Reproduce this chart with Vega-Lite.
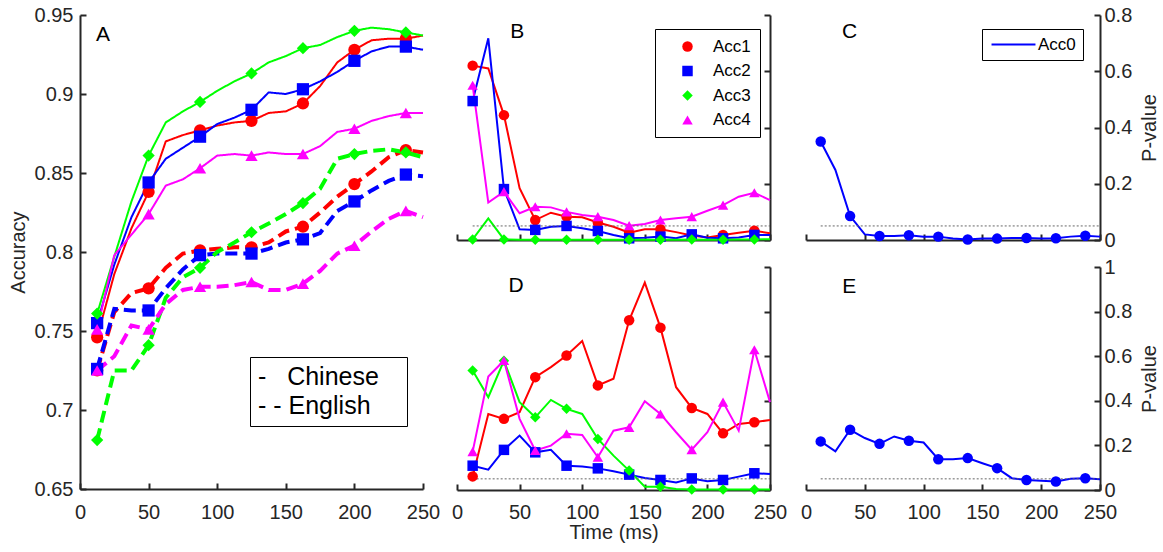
{
  "$schema": "https://vega.github.io/schema/vega-lite/v6.json",
  "background": "white",
  "padding": {"left": 8, "top": 5, "right": 2, "bottom": 2},
  "config": {
    "view": {"stroke": null},
    "font": "Liberation Sans",
    "axis": {
      "labelFont": "Liberation Sans", "titleFont": "Liberation Sans",
      "labelFontSize": 20, "titleFontSize": 20, "titleFontWeight": "normal",
      "labelColor": "#262626", "titleColor": "#262626",
      "domainColor": "#262626", "tickColor": "#262626",
      "domainWidth": 2, "tickWidth": 2, "tickSize": -6,
      "grid": false, "labelFlush": false, "labelOverlap": false
    },
    "legend": {"labelFont": "Liberation Sans", "labelColor": "black"}
  },
  "datasets": {
    "A": [
      {"t":12.5,"lang":"Chinese","Acc1":0.746,"Acc2":0.755,"Acc3":0.761,"Acc4":0.751},
      {"t":25,"lang":"Chinese","Acc1":0.786,"Acc2":0.792,"Acc3":0.797,"Acc4":0.798},
      {"t":37.5,"lang":"Chinese","Acc1":0.815,"Acc2":0.822,"Acc3":0.832,"Acc4":0.811},
      {"t":50,"lang":"Chinese","Acc1":0.838,"Acc2":0.844,"Acc3":0.861,"Acc4":0.824},
      {"t":62.5,"lang":"Chinese","Acc1":0.870,"Acc2":0.859,"Acc3":0.882,"Acc4":0.842},
      {"t":75,"lang":"Chinese","Acc1":0.874,"Acc2":0.866,"Acc3":0.889,"Acc4":0.846},
      {"t":87.5,"lang":"Chinese","Acc1":0.877,"Acc2":0.873,"Acc3":0.895,"Acc4":0.853},
      {"t":100,"lang":"Chinese","Acc1":0.880,"Acc2":0.881,"Acc3":0.902,"Acc4":0.861},
      {"t":112.5,"lang":"Chinese","Acc1":0.882,"Acc2":0.885,"Acc3":0.908,"Acc4":0.862},
      {"t":125,"lang":"Chinese","Acc1":0.883,"Acc2":0.890,"Acc3":0.913,"Acc4":0.861},
      {"t":137.5,"lang":"Chinese","Acc1":0.888,"Acc2":0.901,"Acc3":0.920,"Acc4":0.863},
      {"t":150,"lang":"Chinese","Acc1":0.889,"Acc2":0.900,"Acc3":0.924,"Acc4":0.862},
      {"t":162.5,"lang":"Chinese","Acc1":0.894,"Acc2":0.903,"Acc3":0.929,"Acc4":0.862},
      {"t":175,"lang":"Chinese","Acc1":0.905,"Acc2":0.908,"Acc3":0.931,"Acc4":0.867},
      {"t":187.5,"lang":"Chinese","Acc1":0.920,"Acc2":0.914,"Acc3":0.936,"Acc4":0.876},
      {"t":200,"lang":"Chinese","Acc1":0.928,"Acc2":0.921,"Acc3":0.940,"Acc4":0.878},
      {"t":212.5,"lang":"Chinese","Acc1":0.934,"Acc2":0.927,"Acc3":0.942,"Acc4":0.883},
      {"t":225,"lang":"Chinese","Acc1":0.935,"Acc2":0.930,"Acc3":0.941,"Acc4":0.886},
      {"t":237.5,"lang":"Chinese","Acc1":0.935,"Acc2":0.930,"Acc3":0.939,"Acc4":0.888},
      {"t":250,"lang":"Chinese","Acc1":0.937,"Acc2":0.928,"Acc3":0.937,"Acc4":0.888},
      {"t":12.5,"lang":"English","Acc1":0.725,"Acc2":0.726,"Acc3":0.681,"Acc4":0.725},
      {"t":25,"lang":"English","Acc1":0.762,"Acc2":0.764,"Acc3":0.725,"Acc4":0.734},
      {"t":37.5,"lang":"English","Acc1":0.774,"Acc2":0.763,"Acc3":0.725,"Acc4":0.7535},
      {"t":50,"lang":"English","Acc1":0.777,"Acc2":0.763,"Acc3":0.741,"Acc4":0.751},
      {"t":62.5,"lang":"English","Acc1":0.790,"Acc2":0.777,"Acc3":0.771,"Acc4":0.767},
      {"t":75,"lang":"English","Acc1":0.799,"Acc2":0.789,"Acc3":0.784,"Acc4":0.776},
      {"t":87.5,"lang":"English","Acc1":0.801,"Acc2":0.798,"Acc3":0.790,"Acc4":0.778},
      {"t":100,"lang":"English","Acc1":0.802,"Acc2":0.799,"Acc3":0.800,"Acc4":0.778},
      {"t":112.5,"lang":"English","Acc1":0.803,"Acc2":0.799,"Acc3":0.806,"Acc4":0.779},
      {"t":125,"lang":"English","Acc1":0.803,"Acc2":0.799,"Acc3":0.8125,"Acc4":0.781},
      {"t":137.5,"lang":"English","Acc1":0.806,"Acc2":0.802,"Acc3":0.818,"Acc4":0.776},
      {"t":150,"lang":"English","Acc1":0.813,"Acc2":0.806,"Acc3":0.824,"Acc4":0.776},
      {"t":162.5,"lang":"English","Acc1":0.816,"Acc2":0.808,"Acc3":0.831,"Acc4":0.780},
      {"t":175,"lang":"English","Acc1":0.825,"Acc2":0.812,"Acc3":0.840,"Acc4":0.788},
      {"t":187.5,"lang":"English","Acc1":0.835,"Acc2":0.826,"Acc3":0.859,"Acc4":0.799},
      {"t":200,"lang":"English","Acc1":0.843,"Acc2":0.832,"Acc3":0.862,"Acc4":0.804},
      {"t":212.5,"lang":"English","Acc1":0.851,"Acc2":0.839,"Acc3":0.864,"Acc4":0.813},
      {"t":225,"lang":"English","Acc1":0.860,"Acc2":0.845,"Acc3":0.865,"Acc4":0.821},
      {"t":237.5,"lang":"English","Acc1":0.8645,"Acc2":0.849,"Acc3":0.863,"Acc4":0.826},
      {"t":250,"lang":"English","Acc1":0.863,"Acc2":0.848,"Acc3":0.860,"Acc4":0.822}
    ],
    "B": [
      {"t":12.5,"Acc1":0.62,"Acc2":0.494,"Acc3":0.002,"Acc4":0.55},
      {"t":25,"Acc1":0.61,"Acc2":0.717,"Acc3":0.077,"Acc4":0.133},
      {"t":37.5,"Acc1":0.444,"Acc2":0.181,"Acc3":0.002,"Acc4":0.172},
      {"t":50,"Acc1":0.184,"Acc2":0.038,"Acc3":0.001,"Acc4":0.095},
      {"t":62.5,"Acc1":0.071,"Acc2":0.036,"Acc3":0.001,"Acc4":0.118},
      {"t":75,"Acc1":0.097,"Acc2":0.047,"Acc3":0.001,"Acc4":0.116},
      {"t":87.5,"Acc1":0.083,"Acc2":0.050,"Acc3":0.001,"Acc4":0.100},
      {"t":100,"Acc1":0.081,"Acc2":0.042,"Acc3":0.001,"Acc4":0.089},
      {"t":112.5,"Acc1":0.062,"Acc2":0.032,"Acc3":0.001,"Acc4":0.083},
      {"t":125,"Acc1":0.047,"Acc2":0.018,"Acc3":0.001,"Acc4":0.071},
      {"t":137.5,"Acc1":0.026,"Acc2":0.006,"Acc3":0.001,"Acc4":0.051},
      {"t":150,"Acc1":0.038,"Acc2":0.008,"Acc3":0.001,"Acc4":0.057},
      {"t":162.5,"Acc1":0.038,"Acc2":0.012,"Acc3":0.001,"Acc4":0.071},
      {"t":175,"Acc1":0.028,"Acc2":0.006,"Acc3":0.001,"Acc4":0.077},
      {"t":187.5,"Acc1":0.016,"Acc2":0.020,"Acc3":0.002,"Acc4":0.083},
      {"t":200,"Acc1":0.009,"Acc2":0.008,"Acc3":0.001,"Acc4":0.104},
      {"t":212.5,"Acc1":0.018,"Acc2":0.006,"Acc3":0.001,"Acc4":0.124},
      {"t":225,"Acc1":0.026,"Acc2":0.009,"Acc3":0.002,"Acc4":0.154},
      {"t":237.5,"Acc1":0.033,"Acc2":0.018,"Acc3":0.002,"Acc4":0.168},
      {"t":250,"Acc1":0.024,"Acc2":0.018,"Acc3":0.003,"Acc4":0.142}
    ],
    "C": [
      {"t":12.5,"Acc0":0.35},{"t":25,"Acc0":0.249},{"t":37.5,"Acc0":0.085},{"t":50,"Acc0":0.020},
      {"t":62.5,"Acc0":0.014},{"t":75,"Acc0":0.014},{"t":87.5,"Acc0":0.017},{"t":100,"Acc0":0.012},
      {"t":112.5,"Acc0":0.012},{"t":125,"Acc0":0.005},{"t":137.5,"Acc0":0.002},{"t":150,"Acc0":0.005},
      {"t":162.5,"Acc0":0.005},{"t":175,"Acc0":0.007},{"t":187.5,"Acc0":0.007},{"t":200,"Acc0":0.005},
      {"t":212.5,"Acc0":0.006},{"t":225,"Acc0":0.012},{"t":237.5,"Acc0":0.015},{"t":250,"Acc0":0.012}
    ],
    "D": [
      {"t":12.5,"Acc1":0.061,"Acc2":0.109,"Acc3":0.536,"Acc4":0.172},
      {"t":25,"Acc1":0.341,"Acc2":0.091,"Acc3":0.416,"Acc4":0.509},
      {"t":37.5,"Acc1":0.319,"Acc2":0.180,"Acc3":0.580,"Acc4":0.581},
      {"t":50,"Acc1":0.349,"Acc2":0.244,"Acc3":0.394,"Acc4":0.319},
      {"t":62.5,"Acc1":0.506,"Acc2":0.169,"Acc3":0.326,"Acc4":0.177},
      {"t":75,"Acc1":0.551,"Acc2":0.180,"Acc3":0.404,"Acc4":0.199},
      {"t":87.5,"Acc1":0.603,"Acc2":0.109,"Acc3":0.364,"Acc4":0.252},
      {"t":100,"Acc1":0.668,"Acc2":0.105,"Acc3":0.341,"Acc4":0.247},
      {"t":112.5,"Acc1":0.469,"Acc2":0.097,"Acc3":0.229,"Acc4":0.147},
      {"t":125,"Acc1":0.499,"Acc2":0.084,"Acc3":0.154,"Acc4":0.266},
      {"t":137.5,"Acc1":0.761,"Acc2":0.069,"Acc3":0.087,"Acc4":0.281},
      {"t":150,"Acc1":0.930,"Acc2":0.054,"Acc3":0.015,"Acc4":0.398},
      {"t":162.5,"Acc1":0.728,"Acc2":0.045,"Acc3":0.015,"Acc4":0.341},
      {"t":175,"Acc1":0.461,"Acc2":0.034,"Acc3":0.004,"Acc4":0.259},
      {"t":187.5,"Acc1":0.368,"Acc2":0.052,"Acc3":0.002,"Acc4":0.181},
      {"t":200,"Acc1":0.341,"Acc2":0.039,"Acc3":0.002,"Acc4":0.259},
      {"t":212.5,"Acc1":0.254,"Acc2":0.045,"Acc3":0.002,"Acc4":0.394},
      {"t":225,"Acc1":0.296,"Acc2":0.060,"Acc3":0.002,"Acc4":0.266},
      {"t":237.5,"Acc1":0.304,"Acc2":0.075,"Acc3":0.002,"Acc4":0.629},
      {"t":250,"Acc1":0.314,"Acc2":0.072,"Acc3":0.002,"Acc4":0.394}
    ],
    "E": [
      {"t":12.5,"Acc0":0.218},{"t":25,"Acc0":0.173},{"t":37.5,"Acc0":0.270},{"t":50,"Acc0":0.233},
      {"t":62.5,"Acc0":0.207},{"t":75,"Acc0":0.240},{"t":87.5,"Acc0":0.221},{"t":100,"Acc0":0.213},
      {"t":112.5,"Acc0":0.138},{"t":125,"Acc0":0.138},{"t":137.5,"Acc0":0.143},{"t":150,"Acc0":0.120},
      {"t":162.5,"Acc0":0.098},{"t":175,"Acc0":0.053},{"t":187.5,"Acc0":0.045},{"t":200,"Acc0":0.042},
      {"t":212.5,"Acc0":0.038},{"t":225,"Acc0":0.050},{"t":237.5,"Acc0":0.053},{"t":250,"Acc0":0.048}
    ]
  },
  "resolve": {"scale": {"color": "independent", "shape": "independent", "stroke": "independent", "strokeDash": "independent", "strokeWidth": "independent"}},
  "spacing": 11,
  "hconcat": [
    {
      "width": 343, "height": 474,
      "layer": [
        {
          "data": {"name": "A"},
          "transform": [{"fold": ["Acc1", "Acc2", "Acc3", "Acc4"], "as": ["acc", "v"]}],
          "mark": {"type": "line", "strokeCap": "butt"},
          "encoding": {
            "x": {"field": "t", "type": "quantitative", "scale": {"domain": [0, 250], "nice": false},
                  "axis": {"values": [0, 50, 100, 150, 200, 250], "title": null, "labelPadding": 19}},
            "y": {"field": "v", "type": "quantitative", "scale": {"domain": [0.65, 0.95], "nice": false, "zero": false},
                  "axis": {"values": [0.65, 0.7, 0.75, 0.8, 0.85, 0.9, 0.95], "format": "~g", "title": "Accuracy", "labelPadding": 13, "titlePadding": 6}},
            "stroke": {"field": "acc", "type": "nominal", "scale": {"domain": ["Acc1", "Acc2", "Acc3", "Acc4"], "range": ["#FF0000", "#0000FF", "#00FF00", "#FF00FF"]}, "legend": null},
            "strokeDash": {"field": "lang", "type": "nominal", "scale": {"domain": ["Chinese", "English"], "range": [[1, 0], [12, 6]]},
              "legend": {"title": null, "orient": "none", "legendX": 170, "legendY": 342, "symbolType": "stroke", "symbolSize": 0, "symbolStrokeWidth": 0, "symbolOpacity": 0,
                "labelFontSize": 25, "labelOffset": -24, "padding": 7, "rowPadding": 3, "strokeColor": "black", "fillColor": "white",
                "labelExpr": "datum.label == 'Chinese' ? '-\u00a0\u00a0\u00a0Chinese\u00a0\u00a0\u00a0\u200b' : '-\u00a0-\u00a0English'"}},
            "strokeWidth": {"field": "lang", "type": "nominal", "scale": {"domain": ["English", "Chinese"], "range": [4, 2]}, "legend": null}
          }
        },
        {
          "data": {"name": "A"},
          "transform": [{"fold": ["Acc1", "Acc2", "Acc3", "Acc4"], "as": ["acc", "v"]}, {"filter": {"field": "t", "oneOf": [12.5, 50, 87.5, 125, 162.5, 200, 237.5]}}],
          "mark": {"type": "point", "filled": true, "opacity": 1, "size": 150},
          "encoding": {
            "x": {"field": "t", "type": "quantitative", "scale": {"domain": [0, 250], "nice": false},
                  "axis": {"values": [0, 50, 100, 150, 200, 250], "title": null, "labelPadding": 19}},
            "y": {"field": "v", "type": "quantitative", "scale": {"domain": [0.65, 0.95], "nice": false, "zero": false},
                  "axis": {"values": [0.65, 0.7, 0.75, 0.8, 0.85, 0.9, 0.95], "format": "~g", "title": "Accuracy", "labelPadding": 13, "titlePadding": 6}},
            "color": {"field": "acc", "type": "nominal", "scale": {"domain": ["Acc1", "Acc2", "Acc3", "Acc4"], "range": ["#FF0000", "#0000FF", "#00FF00", "#FF00FF"]}, "legend": null},
            "shape": {"field": "acc", "type": "nominal", "scale": {"domain": ["Acc1", "Acc2", "Acc3", "Acc4"], "range": ["circle", "square", "diamond", "triangle-up"]}, "legend": null}
          }
        },
        {
          "data": {"name": "C"},
          "transform": [{"filter": {"field": "t", "equal": 12.5}}],
          "mark": {"type": "text", "text": "A", "fontSize": 21, "font": "Liberation Sans", "align": "left", "baseline": "alphabetic", "color": "black"},
          "encoding": {"x": {"datum": 11.7, "type": "quantitative"}, "y": {"datum": 0.9337, "type": "quantitative"}}
        }
      ]
    },
    {
      "bounds": "flush",
      "columns": 2,
      "spacing": {"row": 27, "column": 36},
      "resolve": {"scale": {"color": "independent", "shape": "independent", "stroke": "independent"}},
      "concat": [
        {
          "width": 313, "height": 225,
          "layer": [
            {
              "data": {"name": "B"},
              "transform": [{"fold": ["Acc1", "Acc2", "Acc3", "Acc4"], "as": ["acc", "v"]}],
              "mark": {"type": "line", "strokeWidth": 2},
              "encoding": {
                "x": {"field": "t", "type": "quantitative", "scale": {"domain": [0, 250], "nice": false},
                      "axis": {"values": [0, 50, 100, 150, 200, 250], "labels": false, "title": null}},
                "y": {"field": "v", "type": "quantitative", "scale": {"domain": [0, 0.8], "nice": false},
                      "axis": {"orient": "right", "values": [0, 0.2, 0.4, 0.6, 0.8], "labels": false, "title": null}},
                "stroke": {"field": "acc", "type": "nominal", "scale": {"domain": ["Acc4", "Acc3", "Acc2", "Acc1"], "range": ["#FF00FF", "#00FF00", "#0000FF", "#FF0000"]}, "legend": null}
              }
            },
            {
              "data": {"name": "B"},
              "mark": {"type": "line", "color": "#666666", "strokeDash": [2, 2], "strokeWidth": 1},
              "encoding": {
                "x": {"field": "t", "type": "quantitative", "scale": {"domain": [0, 250], "nice": false}},
                "y": {"datum": 0.05, "type": "quantitative"}
              }
            },
            {
              "data": {"name": "B"},
              "transform": [{"fold": ["Acc1", "Acc2", "Acc3", "Acc4"], "as": ["acc", "v"]}, {"filter": {"field": "t", "oneOf": [12.5, 37.5, 62.5, 87.5, 112.5, 137.5, 162.5, 187.5, 212.5, 237.5]}}],
              "mark": {"type": "point", "filled": true, "opacity": 1, "size": 110},
              "encoding": {
                "x": {"field": "t", "type": "quantitative", "scale": {"domain": [0, 250], "nice": false}},
                "y": {"field": "v", "type": "quantitative", "scale": {"domain": [0, 0.8], "nice": false}},
                "color": {"field": "acc", "type": "nominal", "scale": {"domain": ["Acc1", "Acc2", "Acc3", "Acc4"], "range": ["#FF0000", "#0000FF", "#00FF00", "#FF00FF"]},
                  "legend": {"title": null, "orient": "none", "legendX": 198, "legendY": 14, "padding": 9, "symbolOffset": 15, "labelOffset": 17, "rowPadding": 6.5, "labelFontSize": 17, "symbolSize": 110, "strokeColor": "black", "fillColor": "white"}},
                "shape": {"field": "acc", "type": "nominal", "scale": {"domain": ["Acc1", "Acc2", "Acc3", "Acc4"], "range": ["circle", "square", "diamond", "triangle-up"]},
                  "legend": {"title": null, "orient": "none", "legendX": 198, "legendY": 14, "padding": 9, "symbolOffset": 15, "labelOffset": 17, "rowPadding": 6.5, "labelFontSize": 17, "symbolSize": 110, "strokeColor": "black", "fillColor": "white"}}
              }
            },
            {
              "data": {"name": "C"},
              "transform": [{"filter": {"field": "t", "equal": 12.5}}],
              "mark": {"type": "text", "text": "B", "fontSize": 21, "font": "Liberation Sans", "align": "left", "baseline": "alphabetic", "color": "black"},
              "encoding": {"x": {"datum": 42.6, "type": "quantitative"}, "y": {"datum": 0.717, "type": "quantitative"}}
            }
          ]
        },
        {
          "width": 294, "height": 225,
          "layer": [
            {
              "data": {"name": "C"},
              "transform": [{"fold": ["Acc0"], "as": ["acc", "v"]}],
              "mark": {"type": "line", "strokeWidth": 2},
              "encoding": {
                "x": {"field": "t", "type": "quantitative", "scale": {"domain": [0, 250], "nice": false},
                      "axis": {"values": [0, 50, 100, 150, 200, 250], "labels": false, "title": null}},
                "y": {"field": "v", "type": "quantitative", "scale": {"domain": [0, 0.8], "nice": false},
                      "axis": {"orient": "right", "values": [0, 0.2, 0.4, 0.6, 0.8], "format": "~g", "title": "P-value", "labelPadding": 10, "titlePadding": 8, "titleAngle": -90, "titleBaseline": "top"}},
                "color": {"field": "acc", "type": "nominal", "scale": {"domain": ["Acc0"], "range": ["#0000FF"]},
                  "legend": {"title": null, "orient": "none", "legendX": 176, "legendY": 14, "padding": 7, "symbolType": "M-2.93,0H2.93", "symbolSize": 225, "symbolStrokeWidth": 2, "symbolStrokeColor": "#0000FF", "symbolOffset": 16, "labelOffset": 16, "labelFontSize": 17, "strokeColor": "black", "fillColor": "white"}}
              }
            },
            {
              "data": {"name": "C"},
              "mark": {"type": "line", "color": "#666666", "strokeDash": [2, 2], "strokeWidth": 1},
              "encoding": {
                "x": {"field": "t", "type": "quantitative", "scale": {"domain": [0, 250], "nice": false}},
                "y": {"datum": 0.05, "type": "quantitative"}
              }
            },
            {
              "data": {"name": "C"},
              "transform": [{"fold": ["Acc0"], "as": ["acc", "v"]}, {"filter": {"field": "t", "oneOf": [12.5, 37.5, 62.5, 87.5, 112.5, 137.5, 162.5, 187.5, 212.5, 237.5]}}],
              "mark": {"type": "point", "filled": true, "opacity": 1, "size": 110, "shape": "circle", "color": "#0000FF"},
              "encoding": {
                "x": {"field": "t", "type": "quantitative", "scale": {"domain": [0, 250], "nice": false}},
                "y": {"field": "v", "type": "quantitative", "scale": {"domain": [0, 0.8], "nice": false}}
              }
            },
            {
              "data": {"name": "C"},
              "transform": [{"filter": {"field": "t", "equal": 12.5}}],
              "mark": {"type": "text", "text": "C", "fontSize": 21, "font": "Liberation Sans", "align": "left", "baseline": "alphabetic", "color": "black"},
              "encoding": {"x": {"datum": 30.6, "type": "quantitative"}, "y": {"datum": 0.717, "type": "quantitative"}}
            }
          ]
        },
        {
          "width": 313, "height": 223,
          "layer": [
            {
              "data": {"name": "D"},
              "transform": [{"fold": ["Acc1", "Acc2", "Acc3", "Acc4"], "as": ["acc", "v"]}],
              "mark": {"type": "line", "strokeWidth": 2},
              "encoding": {
                "x": {"field": "t", "type": "quantitative", "scale": {"domain": [0, 250], "nice": false},
                      "axis": {"values": [0, 50, 100, 150, 200, 250], "title": "Time (ms)", "labelPadding": 18, "titlePadding": 0}},
                "y": {"field": "v", "type": "quantitative", "scale": {"domain": [0, 1], "nice": false},
                      "axis": {"orient": "right", "values": [0, 0.2, 0.4, 0.6, 0.8, 1], "labels": false, "title": null}},
                "stroke": {"field": "acc", "type": "nominal", "scale": {"domain": ["Acc1", "Acc2", "Acc3", "Acc4"], "range": ["#FF0000", "#0000FF", "#00FF00", "#FF00FF"]}, "legend": null}
              }
            },
            {
              "data": {"name": "D"},
              "mark": {"type": "line", "color": "#666666", "strokeDash": [2, 2], "strokeWidth": 1},
              "encoding": {
                "x": {"field": "t", "type": "quantitative", "scale": {"domain": [0, 250], "nice": false}},
                "y": {"datum": 0.05, "type": "quantitative"}
              }
            },
            {
              "data": {"name": "D"},
              "transform": [{"fold": ["Acc1", "Acc2", "Acc3", "Acc4"], "as": ["acc", "v"]}, {"filter": {"field": "t", "oneOf": [12.5, 37.5, 62.5, 87.5, 112.5, 137.5, 162.5, 187.5, 212.5, 237.5]}}],
              "mark": {"type": "point", "filled": true, "opacity": 1, "size": 110},
              "encoding": {
                "x": {"field": "t", "type": "quantitative", "scale": {"domain": [0, 250], "nice": false}},
                "y": {"field": "v", "type": "quantitative", "scale": {"domain": [0, 1], "nice": false}},
                "color": {"field": "acc", "type": "nominal", "scale": {"domain": ["Acc1", "Acc2", "Acc3", "Acc4"], "range": ["#FF0000", "#0000FF", "#00FF00", "#FF00FF"]}, "legend": null},
                "shape": {"field": "acc", "type": "nominal", "scale": {"domain": ["Acc1", "Acc2", "Acc3", "Acc4"], "range": ["circle", "square", "diamond", "triangle-up"]}, "legend": null}
              }
            },
            {
              "data": {"name": "C"},
              "transform": [{"filter": {"field": "t", "equal": 12.5}}],
              "mark": {"type": "text", "text": "D", "fontSize": 21, "font": "Liberation Sans", "align": "left", "baseline": "alphabetic", "color": "black"},
              "encoding": {"x": {"datum": 41.2, "type": "quantitative"}, "y": {"datum": 0.889, "type": "quantitative"}}
            }
          ]
        },
        {
          "width": 294, "height": 223,
          "layer": [
            {
              "data": {"name": "E"},
              "transform": [{"fold": ["Acc0"], "as": ["acc", "v"]}],
              "mark": {"type": "line", "strokeWidth": 2, "color": "#0000FF"},
              "encoding": {
                "x": {"field": "t", "type": "quantitative", "scale": {"domain": [0, 250], "nice": false},
                      "axis": {"values": [0, 50, 100, 150, 200, 250], "title": null, "labelPadding": 18}},
                "y": {"field": "v", "type": "quantitative", "scale": {"domain": [0, 1], "nice": false},
                      "axis": {"orient": "right", "values": [0, 0.2, 0.4, 0.6, 0.8, 1], "format": "~g", "title": "P-value", "labelPadding": 10, "titlePadding": 8, "titleAngle": -90, "titleBaseline": "top"}}
              }
            },
            {
              "data": {"name": "E"},
              "mark": {"type": "line", "color": "#666666", "strokeDash": [2, 2], "strokeWidth": 1},
              "encoding": {
                "x": {"field": "t", "type": "quantitative", "scale": {"domain": [0, 250], "nice": false}},
                "y": {"datum": 0.05, "type": "quantitative"}
              }
            },
            {
              "data": {"name": "E"},
              "transform": [{"fold": ["Acc0"], "as": ["acc", "v"]}, {"filter": {"field": "t", "oneOf": [12.5, 37.5, 62.5, 87.5, 112.5, 137.5, 162.5, 187.5, 212.5, 237.5]}}],
              "mark": {"type": "point", "filled": true, "opacity": 1, "size": 110, "shape": "circle", "color": "#0000FF"},
              "encoding": {
                "x": {"field": "t", "type": "quantitative", "scale": {"domain": [0, 250], "nice": false}},
                "y": {"field": "v", "type": "quantitative", "scale": {"domain": [0, 1], "nice": false}}
              }
            },
            {
              "data": {"name": "C"},
              "transform": [{"filter": {"field": "t", "equal": 12.5}}],
              "mark": {"type": "text", "text": "E", "fontSize": 21, "font": "Liberation Sans", "align": "left", "baseline": "alphabetic", "color": "black"},
              "encoding": {"x": {"datum": 30.9, "type": "quantitative"}, "y": {"datum": 0.885, "type": "quantitative"}}
            }
          ]
        }
      ]
    }
  ]
}
